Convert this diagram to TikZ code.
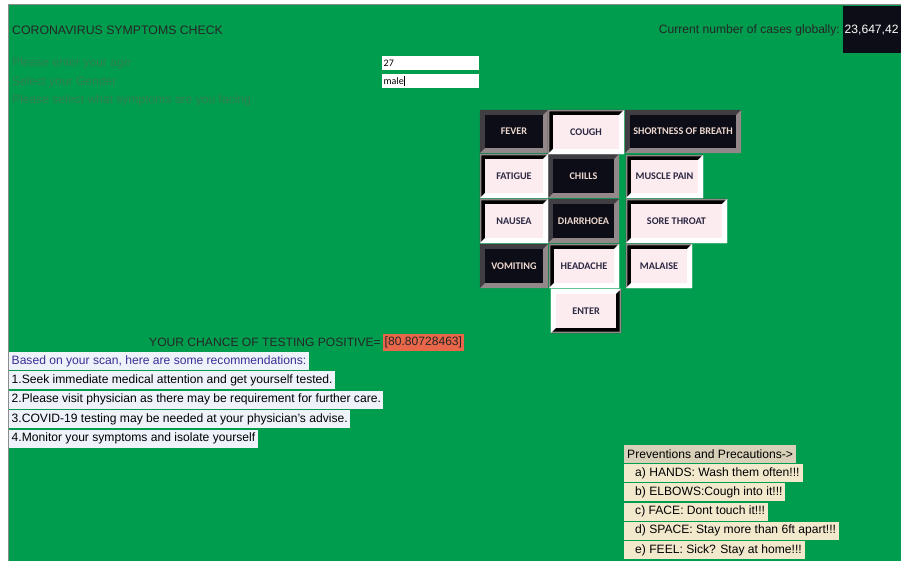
\documentclass[tikz,border=0pt]{standalone}
\usepackage{fontspec}
\setmainfont{Liberation Sans}
\newfontfamily\keyfont{Carlito}
\usetikzlibrary{positioning}

\definecolor{screen}{RGB}{0,157,78}
\definecolor{dimtext}{RGB}{48,128,76}
\definecolor{keydark}{RGB}{12,13,22}
\definecolor{keylight}{RGB}{252,236,240}
\definecolor{bevdark}{RGB}{64,62,66}
\definecolor{bevlight}{RGB}{146,136,138}
\definecolor{keyink}{RGB}{44,40,66}
\definecolor{keyinklt}{RGB}{238,216,208}
\definecolor{hilite}{RGB}{238,242,250}
\definecolor{scanblue}{RGB}{58,46,150}
\definecolor{chance}{RGB}{232,102,74}
\definecolor{tipbg}{RGB}{242,233,205}
\definecolor{tiphead}{RGB}{216,208,184}

% bevelled frame round a key: node, top-left colour, bottom-right colour, width
\newcommand{\bevel}[4]{%
  \fill[#2] (#1.south west) -- (#1.north west) -- (#1.north east)
    -- ([shift={(-#4,-#4)}]#1.north east) -- ([shift={(#4,-#4)}]#1.north west)
    -- ([shift={(#4,#4)}]#1.south west) -- cycle;
  \fill[#3] (#1.south west) -- (#1.south east) -- (#1.north east)
    -- ([shift={(-#4,-#4)}]#1.north east) -- ([shift={(-#4,#4)}]#1.south east)
    -- ([shift={(#4,#4)}]#1.south west) -- cycle;
}

\begin{document}
\begin{tikzpicture}[
  x=1pt, y=-1pt,
  font=\fontsize{12.1}{14}\selectfont,
  prompt/.style={anchor=west, inner sep=0pt, text=dimtext},
  field/.style={anchor=west, fill=white, minimum height=14pt, inner sep=1.5pt,
    text width=94pt, font=\keyfont\fontsize{10}{10}\selectfont},
  key/.style={font=\keyfont\bfseries\fontsize{10.2}{11}\selectfont, inner sep=0pt},
  darkkey/.style={key, fill=keydark, text=keyinklt},
  lightkey/.style={key, fill=keylight, text=keyink},
  advice/.style={anchor=west, fill=hilite, inner xsep=2.5pt, inner ysep=0pt,
    minimum height=18pt},
  tip/.style={anchor=west, fill=tipbg, inner xsep=3pt, inner ysep=0pt,
    minimum height=18pt}
]
  \useasboundingbox (0,0) rectangle (901,561);
  \fill[white] (0,0) rectangle (901,561);
  \fill[screen] (8,5) rectangle (901,561);
  \draw[black!45, line width=1pt] (8,561) -- (8,5) -- (901,5);

  % header and inputs
  \node[anchor=west, inner sep=0pt, text=black!85, font=\fontsize{12.3}{14}\selectfont]
    (title) at (12,30) {CORONAVIRUS SYMPTOMS CHECK};
  \node[prompt] (agetxt) at (12,63) {Please enter your age};
  \node[prompt] (gendertxt) at (12,82) {Select your Gender};
  \node[prompt] (symptxt) at (12,100) {Please select what symptoms are you facing};
  \node[field] (age) at (382,63) {27};
  \node[field] (gender) at (382,81) {male\rule[-1.5pt]{0.7pt}{9.5pt}};

  \node[fill=keydark, text=white, anchor=north west, minimum height=47pt,
    text width=56pt, inner xsep=1.5pt, align=left] (cases) at (843,6) {23,647,42};
  \node[anchor=east, inner sep=0pt, text=black!85] (casestxt) at (840,30)
    {Current number of cases globally:};

  % symptom keys
  \node[darkkey, minimum width=68pt, minimum height=43pt] (fever) at (514,131.5) {FEVER};
  \node[lightkey, minimum width=76pt, minimum height=44pt] (cough) at (586,132) {COUGH};
  \node[darkkey, minimum width=116pt, minimum height=43pt] (breath) at (683,131.5) {SHORTNESS OF BREATH};
  \node[lightkey, minimum width=68pt, minimum height=44pt] (fatigue) at (514,176) {FATIGUE};
  \node[darkkey, minimum width=71pt, minimum height=44pt] (chills) at (583.5,176) {CHILLS};
  \node[lightkey, minimum width=77pt, minimum height=43pt] (muscle) at (664.5,176.5) {MUSCLE PAIN};
  \node[lightkey, minimum width=68pt, minimum height=44pt] (nausea) at (514,221) {NAUSEA};
  \node[darkkey, minimum width=71pt, minimum height=44pt] (diarrhoea) at (583.5,221) {DIARRHOEA};
  \node[lightkey, minimum width=101pt, minimum height=44pt] (throat) at (676.5,221) {SORE THROAT};
  \node[darkkey, minimum width=68pt, minimum height=44pt] (vomiting) at (514,266) {VOMITING};
  \node[lightkey, minimum width=70pt, minimum height=44pt] (headache) at (584,266) {HEADACHE};
  \node[lightkey, minimum width=66pt, minimum height=44pt] (malaise) at (659,266) {MALAISE};
  \node[lightkey, minimum width=70pt, minimum height=44pt] (enter) at (586,311) {ENTER};

  \foreach \k in {fever,breath,chills,diarrhoea,vomiting}
    {\bevel{\k}{bevdark}{bevlight}{5pt}}
  \foreach \k in {cough,fatigue,muscle,nausea,throat,headache,malaise}
    {\bevel{\k}{black}{white}{5pt}\bevel{\k}{bevlight}{white}{1.5pt}}
  \bevel{enter}{white}{black}{5pt}
  \bevel{enter}{white}{bevlight}{1.5pt}

  % result
  \node[anchor=east, inner sep=0pt, text=black!85] (chancetxt) at (381,342)
    {YOUR CHANCE OF TESTING POSITIVE=};
  \node[fill=chance, anchor=west, inner xsep=1.5pt, minimum height=17pt, inner ysep=0pt,
    right=2pt of chancetxt, text=black!85] (score) {[80.80728463]};

  \node[advice, text=scanblue] (scan) at (9,361) {Based on your scan, here are some recommendations:};
  \node[advice, below=1pt of scan.south west, anchor=north west] (rec1)
    {1.Seek immediate medical attention and get yourself tested.};
  \node[advice, below=1pt of rec1.south west, anchor=north west] (rec2)
    {2.Please visit physician as there may be requirement for further care.};
  \node[advice, below=1pt of rec2.south west, anchor=north west] (rec3)
    {3.COVID-19 testing may be needed at your physician's advise.};
  \node[advice, below=1pt of rec3.south west, anchor=north west] (rec4)
    {4.Monitor your symptoms and isolate yourself};

  % precautions
  \node[tip, fill=tiphead] (prevent) at (624,454) {Preventions and Precautions->};
  \node[tip, below=0.8pt of prevent.south west, anchor=north west] (hands)
    {\hspace*{8pt}a) HANDS: Wash them often!!!};
  \node[tip, below=0.8pt of hands.south west, anchor=north west] (elbows)
    {\hspace*{8pt}b) ELBOWS:Cough into it!!!};
  \node[tip, below=0.8pt of elbows.south west, anchor=north west] (face)
    {\hspace*{8pt}c) FACE: Dont touch it!!!};
  \node[tip, below=0.8pt of face.south west, anchor=north west] (space)
    {\hspace*{8pt}d) SPACE: Stay more than 6ft apart!!!};
  \node[tip, below=0.8pt of space.south west, anchor=north west] (feel)
    {\hspace*{8pt}e) FEEL: Sick? Stay at home!!!};
\end{tikzpicture}
\end{document}
